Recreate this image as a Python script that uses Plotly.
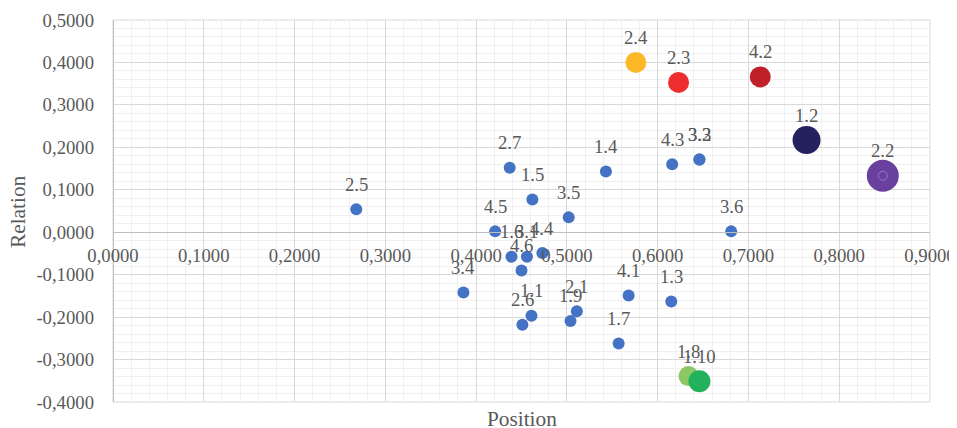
import plotly.graph_objects as go

# ---- data ----
labels = ["1.1", "1.2", "1.3", "1.4", "1.5", "1.6", "1.7", "1.8", "1.9", "1.10",
          "2.1", "2.2", "2.3", "2.4", "2.5", "2.6", "2.7",
          "3.1", "3.2", "3.3", "3.4", "3.5", "3.6",
          "4.1", "4.2", "4.3", "4.4", "4.5", "4.6"]
position = [0.461, 0.764, 0.615, 0.543, 0.462, 0.439, 0.557, 0.634, 0.504, 0.646,
            0.511, 0.848, 0.623, 0.576, 0.268, 0.451, 0.437,
            0.456, 0.646, 0.646, 0.386, 0.502, 0.681,
            0.568, 0.713, 0.616, 0.473, 0.421, 0.450]
relation = [-0.197, 0.217, -0.163, 0.143, 0.077, -0.058, -0.262, -0.339, -0.209, -0.351,
            -0.186, 0.133, 0.353, 0.400, 0.054, -0.218, 0.152,
            -0.058, 0.171, 0.172, -0.142, 0.035, 0.002,
            -0.149, 0.366, 0.160, -0.049, 0.002, -0.090]

x_ticks = [0.0, 0.1, 0.2, 0.3, 0.4, 0.5, 0.6, 0.7, 0.8, 0.9]
x_tick_labels = ["0,0000", "0,1000", "0,2000", "0,3000", "0,4000",
                 "0,5000", "0,6000", "0,7000", "0,8000", "0,9000"]
y_ticks = [-0.4, -0.3, -0.2, -0.1, 0.0, 0.1, 0.2, 0.3, 0.4, 0.5]
y_tick_labels = ["-0,4000", "-0,3000", "-0,2000", "-0,1000", "0,0000",
                 "0,1000", "0,2000", "0,3000", "0,4000", "0,5000"]

# ---- styles ----
default_style = ("#4472C4", 12)
highlight = {
    "2.4": ("#FDB827", 21),
    "2.3": ("#EE2E2E", 21),
    "4.2": ("#C0202A", 21),
    "1.2": ("#24215E", 28),
    "2.2": ("#6A409E", 32),
    "1.8": ("#8BC763", 20),
    "1.10": ("#22B25C", 22),
}

FONT = "Liberation Serif, Times New Roman, serif"
GREY = "#595959"

fig = go.Figure()
annotations = []
for lab, px, ry in zip(labels, position, relation):
    color, size = highlight.get(lab, default_style)
    fig.add_trace(go.Scatter(x=[px], y=[ry], mode="markers", name=lab,
                             marker=dict(color=color, size=size, line=dict(width=0)),
                             showlegend=False, hoverinfo="text", text=[lab]))
    annotations.append(dict(x=px, y=ry, text=lab, showarrow=False, yshift=25,
                            xanchor="center", yanchor="middle",
                            font=dict(family=FONT, size=18.7, color=GREY)))

# small inner ring on 2.2
i22 = labels.index("2.2")
fig.add_trace(go.Scatter(x=[position[i22]], y=[relation[i22]], mode="markers",
                         marker=dict(color="rgba(0,0,0,0)", size=9,
                                     line=dict(color="#9479C4", width=1)),
                         showlegend=False, hoverinfo="skip"))

annotations.append(dict(xref="paper", yref="paper", x=0.5, y=-0.044, text="Position",
                        showarrow=False, xanchor="center", yanchor="middle",
                        font=dict(family=FONT, size=21.3, color=GREY)))
annotations.append(dict(xref="paper", yref="paper", x=-0.1163, y=0.5, text="Relation",
                        showarrow=False, xanchor="center", yanchor="middle", textangle=-90,
                        font=dict(family=FONT, size=21.3, color=GREY)))

# page body has an 8px default margin; figure sized so the plot area lands in place
fig.update_layout(
    width=957, height=428,
    margin=dict(l=105, r=35, t=12, b=34, autoexpand=False),
    paper_bgcolor="white", plot_bgcolor="white",
    font=dict(family=FONT, size=18.7, color=GREY),
    annotations=annotations,
    shapes=[dict(type="rect", xref="paper", yref="paper", x0=0, y0=0, x1=1, y1=1,
                 line=dict(color="#D9D9D9", width=1), layer="below")],
    xaxis=dict(range=[0, 0.9], tickvals=x_ticks, ticktext=x_tick_labels,
               anchor="free", position=0.4444, automargin=False,
               showgrid=True, gridcolor="#D9D9D9", gridwidth=1,
               minor=dict(dtick=0.02, showgrid=True, gridcolor="#F0F0F0", gridwidth=1),
               showline=True, linecolor="#BFBFBF", linewidth=1,
               zeroline=True, zerolinecolor="#BFBFBF", zerolinewidth=1,
               ticks="", ticklabelstandoff=6,
               tickfont=dict(family=FONT, size=18.7, color=GREY)),
    yaxis=dict(range=[-0.4, 0.5], tickvals=y_ticks, ticktext=y_tick_labels,
               automargin=False,
               showgrid=True, gridcolor="#D9D9D9", gridwidth=1,
               minor=dict(dtick=0.02, showgrid=True, gridcolor="#F0F0F0", gridwidth=1),
               showline=False,
               zeroline=True, zerolinecolor="#BFBFBF", zerolinewidth=1,
               ticks="", ticklabelstandoff=18,
               tickfont=dict(family=FONT, size=18.7, color=GREY)),
)

fig.write_html("out.html")
